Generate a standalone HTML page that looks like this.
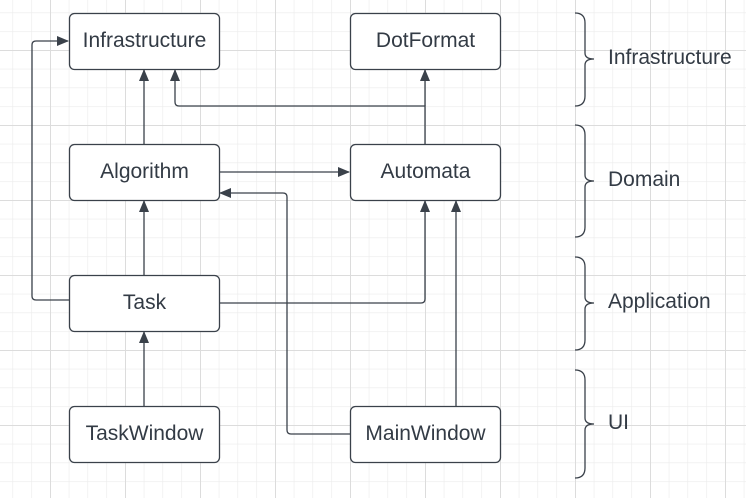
<!DOCTYPE html>
<html><head><meta charset="utf-8"><style>
html,body{margin:0;padding:0;background:#fff;}
svg{display:block;}
text{font-family:"Liberation Sans",sans-serif;font-size:21px;fill:#333b45;}
</style></head><body>
<svg width="746" height="498" viewBox="0 0 746 498" xmlns="http://www.w3.org/2000/svg">
<defs>
<pattern id="minor" x="-6.25" y="-6.25" width="18.75" height="18.75" patternUnits="userSpaceOnUse">
<path d="M0 0H18.75M0 0V18.75" stroke="#ebebeb" stroke-width="1.2" fill="none"/>
</pattern>
<pattern id="major" x="50" y="50" width="75" height="75" patternUnits="userSpaceOnUse">
<path d="M0 0H75M0 0V75" stroke="#dcdcdc" stroke-width="2" fill="none"/>
</pattern>
<marker id="a" markerWidth="12" markerHeight="10" refX="11" refY="5" orient="auto" markerUnits="userSpaceOnUse">
<path d="M0 0L12 5L0 10Z" fill="#3a414a"/>
</marker>
</defs>
<rect width="746" height="498" fill="url(#minor)"/>
<rect width="746" height="498" fill="url(#major)"/>
<g fill="none" stroke="#3a414a" stroke-width="1.3">
<path d="M144 144V70" marker-end="url(#a)"/>
<path d="M425 144V106H179Q175 106 175 102V70" marker-end="url(#a)"/>
<path d="M425 106V70" marker-end="url(#a)"/>
<path d="M219 172H349" marker-end="url(#a)"/>
<path d="M350 434H291Q287 434 287 430V197Q287 193 283 193H220" marker-end="url(#a)"/>
<path d="M456 406V201" marker-end="url(#a)"/>
<path d="M219 303H421Q425 303 425 299V201" marker-end="url(#a)"/>
<path d="M144 275V201" marker-end="url(#a)"/>
<path d="M69 300H36Q32 300 32 296V45Q32 41 36 41H68" marker-end="url(#a)"/>
<path d="M144 406V332" marker-end="url(#a)"/>
</g>
<g fill="#fff" stroke="#3a414a" stroke-width="1.3">
<rect x="69.5" y="13.5" width="150" height="56" rx="5"/>
<rect x="350.5" y="13.5" width="150" height="56" rx="5"/>
<rect x="69.5" y="144.5" width="150" height="56" rx="5"/>
<rect x="350.5" y="144.5" width="150" height="56" rx="5"/>
<rect x="69.5" y="275.5" width="150" height="56" rx="5"/>
<rect x="69.5" y="406.5" width="150" height="56" rx="5"/>
<rect x="350.5" y="406.5" width="150" height="56" rx="5"/>
</g>
<g text-anchor="middle">
<text x="144.5" y="47">Infrastructure</text>
<text x="425.5" y="47">DotFormat</text>
<text x="144.5" y="178">Algorithm</text>
<text x="425.5" y="178">Automata</text>
<text x="144.5" y="309">Task</text>
<text x="144.5" y="440">TaskWindow</text>
<text x="425.5" y="440">MainWindow</text>
</g>
<g fill="none" stroke="#3a414a" stroke-width="1.3">
<path d="M575 13Q585 13 585 23V53Q585 59 594 59Q585 59 585 65V96Q585 106 575 106"/>
<path d="M575 125Q585 125 585 135V175Q585 181 594 181Q585 181 585 187V227Q585 237 575 237"/>
<path d="M575 257Q585 257 585 267V297Q585 303 594 303Q585 303 585 309V340Q585 350 575 350"/>
<path d="M575 370Q585 370 585 380V418Q585 424 594 424Q585 424 585 430V468Q585 478 575 478"/>
</g>
<text x="608" y="64">Infrastructure</text>
<text x="608" y="186">Domain</text>
<text x="608" y="308">Application</text>
<text x="608" y="429">UI</text>
</svg>
</body></html>
